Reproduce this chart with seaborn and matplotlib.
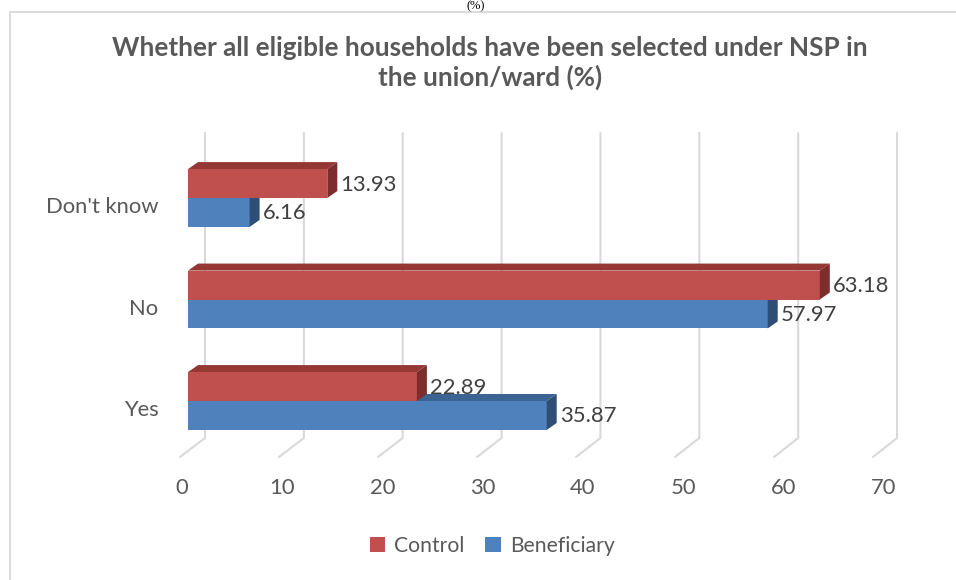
import matplotlib
matplotlib.use("Agg")
import matplotlib.pyplot as plt
import matplotlib.transforms as mtrans
import seaborn as sns
import pandas as pd
from matplotlib.patches import Polygon, Rectangle, Patch

# ---- data ----
categories = ["Don't know", "No", "Yes"]
groups = ["Control", "Beneficiary"]
control_vals = [13.93, 63.18, 22.89]
beneficiary_vals = [6.16, 57.97, 35.87]
x_ticks = [0, 10, 20, 30, 40, 50, 60, 70]
title = "Whether all eligible households have been selected under NSP in\nthe union/ward (%)"

front_colors = {"Control": "#C0504D", "Beneficiary": "#4F81BD"}
top_colors = {"Control": "#953735", "Beneficiary": "#3B6494"}
side_colors = {"Control": "#7D2E2C", "Beneficiary": "#2E4E75"}

df = pd.DataFrame({
    "Response": categories * 2,
    "Value": control_vals + beneficiary_vals,
    "Group": ["Control"] * 3 + ["Beneficiary"] * 3,
})

sns.set_theme(style="white")
plt.rcParams["font.family"] = ["Lato", "DejaVu Sans"]

W, H = 956, 580
fig = plt.figure(figsize=(W / 100, H / 100), dpi=100)

# chart-area border (document crop)
fig.patches.append(Rectangle((10 / W, -0.1), 1.2, (H - 12) / H + 0.1,
                             transform=fig.transFigure, fill=False,
                             edgecolor="#D9D9D9", lw=1.3))
fig.text(476 / W, 1 - 6 / H, "(%)", ha="center", va="center",
         fontsize=9, family="Liberation Serif", color="#000000")

L, R, T, B = 175, 930, 120, 500
ax = fig.add_axes([L / W, (H - B) / H, (R - L) / W, (B - T) / H])

px_x = 10.0       # px per x unit
px_y = 101.5      # px per category
x0_px = 188
c0_px = 198
FS = 15.8

sns.barplot(data=df, y="Response", x="Value", hue="Group", hue_order=groups,
            order=categories, palette=front_colors, orient="h", width=0.57,
            saturation=1, gap=0, dodge=True, legend=False, ax=ax,
            linewidth=0, errorbar=None)

ax.set_xlim((L - x0_px) / px_x, (R - x0_px) / px_x)
ax.set_ylim((B - c0_px) / px_y, (T - c0_px) / px_y)
for s in ax.spines.values():
    s.set_visible(False)
ax.set_xlabel("")
ax.set_ylabel("")
ax.set_xticks([])
ax.grid(False)
ax.set_facecolor("none")

# 3D depth faces
dx = 10 / px_x
dy = 7 / px_y
bars = list(ax.patches)
for p in bars:
    x = p.get_x()
    w = p.get_width()
    y = p.get_y()
    h = p.get_height()
    ytop, ybot = y, y + h
    color = p.get_facecolor()
    grp = "Control" if abs(color[0] - 0.753) < 0.02 else "Beneficiary"
    z = 3 if grp == "Control" else 2
    p.set_zorder(z + 0.5)
    top = Polygon([(x, ytop), (x + w, ytop), (x + w + dx, ytop - dy), (x + dx, ytop - dy)],
                  closed=True, facecolor=top_colors[grp], edgecolor="none", zorder=z)
    side = Polygon([(x + w, ytop), (x + w + dx, ytop - dy), (x + w + dx, ybot - dy), (x + w, ybot)],
                   closed=True, facecolor=side_colors[grp], edgecolor="none", zorder=z + 0.6)
    ax.add_patch(top)
    ax.add_patch(side)
    ax.text(x + w + 1.3, y + h / 2 + 1 / px_y, f"{w:.2f}", va="center", ha="left",
            fontsize=FS, color="#404040", zorder=5)

# back-wall gridlines and floor
y_top = (133 - c0_px) / px_y
y_back = (438 - c0_px) / px_y
y_front = (457 - c0_px) / px_y
for v in x_ticks:
    bx = 1.7 + v * 0.9886
    fx = -0.8 + v * 0.99
    ax.plot([bx, bx, fx], [y_top, y_back, y_front], color="#D9D9D9", lw=1.5,
            zorder=1, solid_joinstyle="miter")
    ax.text(-0.65 + v * 1.0036, (488 - c0_px) / px_y, str(v), ha="center", va="center",
            fontsize=FS, color="#595959")

# category labels
ax.set_yticks(range(len(categories)))
ax.set_yticklabels(categories)
ax.tick_params(axis="y", length=0, pad=12, labelsize=FS, labelcolor="#595959")
off = mtrans.ScaledTranslation(0, -7 / 100, fig.dpi_scale_trans)
for lab in ax.get_yticklabels():
    lab.set_transform(lab.get_transform() + off)

fig.text(490 / W, 1 - 63 / H, title, ha="center", va="center", fontsize=18.8,
         fontweight="bold", color="#595959", linespacing=1.25)

handles = [Patch(facecolor=front_colors[g], edgecolor="none") for g in groups]
fig.legend(handles, groups, loc="center", bbox_to_anchor=(492 / W, 1 - 546 / H),
           ncol=2, frameon=False, fontsize=15.2, labelcolor="#595959",
           handlelength=0.75, handleheight=0.75, handletextpad=0.4, columnspacing=1.0)

fig.savefig("out.png", dpi=100)
